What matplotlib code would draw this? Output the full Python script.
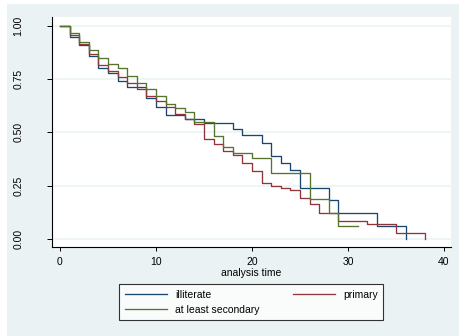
import matplotlib
matplotlib.use("Agg")
import matplotlib.pyplot as plt
from matplotlib.patches import Rectangle

plt.rcParams['font.family'] = ['Liberation Sans', 'DejaVu Sans']

# Kaplan-Meier step data (change points)
t_illit = [0, 1, 2, 3, 4, 5, 6, 7, 9, 10, 11, 13, 15, 18, 19, 21, 22, 23, 24, 25, 28, 29, 33, 36]
s_illit = [1.0, 0.947, 0.910, 0.856, 0.801, 0.779, 0.740, 0.711, 0.660, 0.620, 0.583, 0.563,
           0.542, 0.515, 0.488, 0.452, 0.391, 0.357, 0.325, 0.241, 0.183, 0.121, 0.062, 0.0]

t_prim = [0, 1, 2, 3, 4, 5, 6, 7, 8, 9, 10, 11, 12, 13, 14, 15, 16, 17, 18, 19, 20, 21, 22, 23,
          24, 25, 26, 27, 29, 32, 35, 38]
s_prim = [1.0, 0.957, 0.912, 0.868, 0.816, 0.786, 0.758, 0.733, 0.703, 0.670, 0.648, 0.617,
          0.584, 0.563, 0.537, 0.470, 0.445, 0.413, 0.393, 0.356, 0.318, 0.264, 0.250, 0.240,
          0.231, 0.191, 0.166, 0.123, 0.084, 0.073, 0.027, 0.0]

t_sec = [0, 1, 2, 3, 4, 5, 6, 7, 8, 9, 10, 11, 12, 13, 14, 16, 17, 18, 20, 22, 26, 28, 29, 31]
s_sec = [1.0, 0.965, 0.923, 0.885, 0.847, 0.818, 0.803, 0.763, 0.729, 0.701, 0.672, 0.633,
         0.612, 0.596, 0.548, 0.482, 0.432, 0.405, 0.378, 0.308, 0.186, 0.123, 0.061, 0.061]

labels = ["illiterate", "primary", "at least secondary"]
colors = ["#1A476F", "#90353B", "#55752F"]
xticks = [0, 10, 20, 30, 40]
yticks = [0.0, 0.25, 0.50, 0.75, 1.00]
ytick_labels = ["0.00", "0.25", "0.50", "0.75", "1.00"]

W, H = 459, 336
fig = plt.figure(figsize=(W / 100, H / 100), dpi=100)
fig.patch.set_facecolor("white")
bg = Rectangle((7 / W, 0), 1 - 7 / W, 1 - 4 / H, transform=fig.transFigure,
               facecolor="#EAF2F3", edgecolor="none", zorder=-10)
fig.patches.append(bg)

ax = fig.add_axes([52 / W, 1 - 247 / H, (450.7 - 52) / W, (247 - 17) / H])
ax.set_zorder(1)
ax.set_facecolor("white")
ax.set_xlim(-0.83, 40.7)
ax.set_ylim(-0.037, 1.040)

for y in yticks:
    ax.axhline(y, color="#EAF2F3", lw=1.1, zorder=1)

lines = []
for t, s, c, lab in zip([t_illit, t_prim, t_sec], [s_illit, s_prim, s_sec], colors, labels):
    ln, = ax.step(t, s, where="post", color=c, lw=0.95, label=lab, zorder=3)
    lines.append(ln)

for side in ["top", "right"]:
    ax.spines[side].set_visible(False)
for side in ["left", "bottom"]:
    ax.spines[side].set_color("black")
    ax.spines[side].set_linewidth(0.8)

ax.set_xticks(xticks)
ax.set_xticklabels([str(x) for x in xticks])
ax.set_yticks(yticks)
ax.set_yticklabels(ytick_labels, rotation=90, va="center")
ax.tick_params(axis="y", length=3.6, width=0.7, pad=17, labelsize=7.5)
ax.tick_params(axis="x", length=3.0, width=0.7, pad=4.5, labelsize=7.5)
ax.set_xlabel("analysis time", fontsize=7.5, labelpad=0.5)

leg = fig.legend([lines[0], lines[2], lines[1]],
                 [labels[0], labels[2], labels[1]],
                 ncol=2, loc="center", bbox_to_anchor=(251.4 / W, 1 - 302.3 / H),
                 fontsize=7.5, frameon=True, fancybox=False, edgecolor="black",
                 handlelength=4.0, handletextpad=0.8, columnspacing=3.2,
                 labelspacing=0.45, borderpad=0.55)
leg.get_frame().set_linewidth(0.8)
leg.get_frame().set_facecolor("white")
leg.set_zorder(5)

fig.savefig("out.png", dpi=100)
